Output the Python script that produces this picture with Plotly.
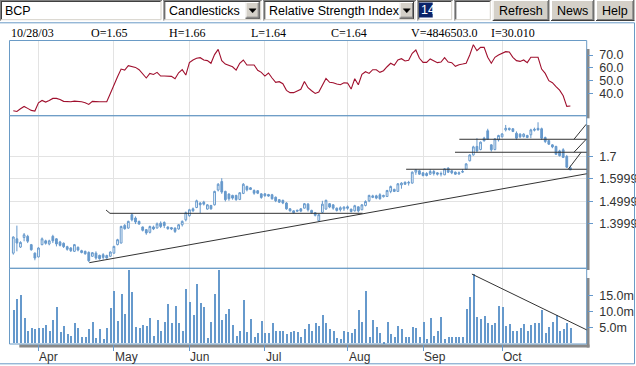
import pandas as pd
import plotly.graph_objects as go

W, H = 636, 366

# ---------------- data ----------------
holidays = ["2003-04-18", "2003-05-01"]
dates = [d for d in pd.bdate_range("2003-03-21", "2003-10-28") if d.strftime("%Y-%m-%d") not in holidays]

opens = [
    1.268, 1.332, 1.295, 1.338, 1.343, 1.306, 1.268, 1.251, 1.306, 1.323,
    1.309, 1.343, 1.332, 1.318, 1.312, 1.297, 1.291, 1.276, 1.294, 1.279,
    1.276, 1.271, 1.254, 1.268, 1.258, 1.261, 1.257, 1.254, 1.268, 1.306,
    1.313, 1.392, 1.380, 1.440, 1.425, 1.410, 1.385, 1.373, 1.361, 1.385,
    1.380, 1.402, 1.405, 1.385, 1.382, 1.380, 1.376, 1.395, 1.417, 1.435,
    1.466, 1.472, 1.492, 1.496, 1.465, 1.481, 1.484, 1.550, 1.588, 1.544,
    1.532, 1.526, 1.526, 1.508, 1.535, 1.566, 1.560, 1.548, 1.547, 1.533,
    1.533, 1.530, 1.529, 1.518, 1.507, 1.504, 1.492, 1.466, 1.457, 1.460,
    1.466, 1.469, 1.487, 1.459, 1.449, 1.413, 1.450, 1.465, 1.489, 1.484,
    1.469, 1.462, 1.466, 1.475, 1.465, 1.457, 1.475, 1.462, 1.481, 1.502,
    1.517, 1.524, 1.529, 1.520, 1.521, 1.544, 1.553, 1.544, 1.573, 1.585,
    1.581, 1.581, 1.630, 1.636, 1.627, 1.624, 1.621, 1.633, 1.627, 1.621,
    1.618, 1.648, 1.636, 1.630, 1.622, 1.630, 1.643, 1.681, 1.707, 1.745,
    1.731, 1.782, 1.815, 1.752, 1.731, 1.774, 1.788, 1.819, 1.826, 1.824,
    1.804, 1.800, 1.789, 1.794, 1.797, 1.822, 1.826, 1.824, 1.785, 1.771,
    1.752, 1.745, 1.725, 1.730, 1.700, 1.650]
highs = [
    1.343, 1.391, 1.321, 1.358, 1.350, 1.309, 1.271, 1.294, 1.338, 1.328,
    1.328, 1.350, 1.335, 1.323, 1.316, 1.301, 1.295, 1.309, 1.298, 1.283,
    1.279, 1.276, 1.273, 1.276, 1.261, 1.268, 1.261, 1.276, 1.301, 1.332,
    1.391, 1.398, 1.413, 1.447, 1.432, 1.413, 1.387, 1.376, 1.391, 1.391,
    1.405, 1.410, 1.410, 1.387, 1.385, 1.383, 1.398, 1.414, 1.454, 1.466,
    1.472, 1.507, 1.496, 1.502, 1.487, 1.484, 1.547, 1.581, 1.603, 1.547,
    1.536, 1.529, 1.529, 1.541, 1.581, 1.570, 1.563, 1.553, 1.550, 1.536,
    1.536, 1.533, 1.533, 1.521, 1.509, 1.507, 1.496, 1.469, 1.459, 1.462,
    1.469, 1.492, 1.492, 1.462, 1.451, 1.444, 1.502, 1.507, 1.492, 1.487,
    1.472, 1.477, 1.477, 1.481, 1.466, 1.484, 1.477, 1.487, 1.504, 1.529,
    1.529, 1.529, 1.536, 1.529, 1.551, 1.570, 1.556, 1.581, 1.585, 1.588,
    1.591, 1.633, 1.643, 1.640, 1.630, 1.630, 1.643, 1.640, 1.630, 1.633,
    1.648, 1.652, 1.640, 1.633, 1.633, 1.643, 1.670, 1.710, 1.748, 1.782,
    1.767, 1.788, 1.824, 1.755, 1.782, 1.797, 1.804, 1.841, 1.829, 1.826,
    1.812, 1.804, 1.804, 1.797, 1.824, 1.829, 1.853, 1.829, 1.789, 1.774,
    1.755, 1.748, 1.730, 1.737, 1.707, 1.660]
lows = [
    1.261, 1.276, 1.291, 1.321, 1.313, 1.279, 1.236, 1.249, 1.303, 1.306,
    1.303, 1.313, 1.298, 1.298, 1.291, 1.279, 1.273, 1.273, 1.276, 1.267,
    1.261, 1.228, 1.251, 1.239, 1.239, 1.239, 1.243, 1.251, 1.265, 1.303,
    1.312, 1.373, 1.377, 1.410, 1.398, 1.395, 1.365, 1.350, 1.356, 1.371,
    1.379, 1.380, 1.380, 1.373, 1.371, 1.358, 1.373, 1.387, 1.410, 1.431,
    1.453, 1.469, 1.447, 1.481, 1.462, 1.462, 1.481, 1.544, 1.533, 1.499,
    1.502, 1.507, 1.502, 1.505, 1.532, 1.544, 1.550, 1.529, 1.532, 1.511,
    1.521, 1.520, 1.507, 1.496, 1.492, 1.487, 1.462, 1.454, 1.444, 1.454,
    1.451, 1.468, 1.454, 1.444, 1.432, 1.410, 1.447, 1.462, 1.469, 1.462,
    1.454, 1.454, 1.457, 1.462, 1.450, 1.454, 1.450, 1.460, 1.477, 1.496,
    1.514, 1.509, 1.507, 1.517, 1.520, 1.536, 1.541, 1.542, 1.556, 1.573,
    1.570, 1.579, 1.618, 1.618, 1.611, 1.611, 1.618, 1.615, 1.615, 1.611,
    1.617, 1.626, 1.621, 1.618, 1.618, 1.626, 1.642, 1.678, 1.704, 1.719,
    1.728, 1.767, 1.774, 1.722, 1.728, 1.767, 1.785, 1.812, 1.815, 1.809,
    1.774, 1.782, 1.785, 1.782, 1.782, 1.812, 1.816, 1.774, 1.760, 1.752,
    1.737, 1.707, 1.700, 1.693, 1.648, 1.640]
closes = [
    1.340, 1.313, 1.316, 1.350, 1.321, 1.283, 1.246, 1.291, 1.332, 1.312,
    1.323, 1.323, 1.309, 1.303, 1.297, 1.285, 1.279, 1.306, 1.282, 1.271,
    1.265, 1.234, 1.270, 1.246, 1.243, 1.249, 1.246, 1.273, 1.298, 1.328,
    1.387, 1.377, 1.410, 1.417, 1.407, 1.398, 1.370, 1.358, 1.387, 1.376,
    1.399, 1.387, 1.391, 1.377, 1.376, 1.365, 1.395, 1.410, 1.449, 1.462,
    1.457, 1.502, 1.484, 1.487, 1.484, 1.466, 1.544, 1.576, 1.541, 1.507,
    1.511, 1.514, 1.507, 1.538, 1.576, 1.551, 1.553, 1.536, 1.536, 1.517,
    1.524, 1.523, 1.511, 1.502, 1.496, 1.492, 1.466, 1.457, 1.449, 1.456,
    1.456, 1.489, 1.462, 1.449, 1.437, 1.440, 1.487, 1.504, 1.474, 1.469,
    1.459, 1.471, 1.474, 1.469, 1.454, 1.480, 1.457, 1.484, 1.499, 1.526,
    1.524, 1.514, 1.511, 1.526, 1.548, 1.566, 1.544, 1.578, 1.581, 1.576,
    1.584, 1.630, 1.640, 1.621, 1.615, 1.615, 1.633, 1.624, 1.621, 1.624,
    1.645, 1.630, 1.627, 1.621, 1.627, 1.633, 1.667, 1.707, 1.743, 1.725,
    1.764, 1.770, 1.777, 1.730, 1.779, 1.794, 1.801, 1.826, 1.821, 1.812,
    1.782, 1.788, 1.800, 1.785, 1.819, 1.818, 1.819, 1.782, 1.767, 1.755,
    1.743, 1.710, 1.704, 1.696, 1.652, 1.640]
volume_m = [
    10.4, 13.9, 15.2, 7.9, 4.0, 4.9, 4.4, 4.7, 4.7, 5.6,
    4.0, 7.2, 11.3, 3.6, 5.3, 2.8, 2.4, 6.3, 4.7, 2.1,
    2.1, 4.4, 6.6, 1.5, 4.4, 1.2, 4.7, 11.1, 16.5, 6.9,
    15.5, 9.1, 23.0, 16.2, 5.0, 4.7, 5.6, 5.3, 7.9, 2.4,
    7.2, 4.0, 6.6, 12.3, 6.3, 11.6, 6.3, 3.7, 17.1, 13.0,
    8.8, 18.7, 12.7, 11.5, 1.5, 6.6, 15.5, 23.0, 7.2, 9.1,
    10.7, 5.6, 2.4, 4.0, 13.6, 3.4, 7.6, 2.1, 3.1, 6.9,
    3.1, 3.1, 6.3, 3.7, 3.7, 4.0, 2.8, 3.4, 4.0, 3.4,
    2.1, 4.4, 6.0, 4.0, 6.3, 5.5, 8.8, 6.3, 4.4, 3.7,
    1.5, 1.2, 4.0, 3.4, 3.1, 4.4, 10.4, 6.6, 16.5, 1.8,
    7.2, 5.0, 3.1, 0.5, 6.6, 2.8, 2.1, 5.3, 4.4, 1.8,
    1.8, 5.0, 4.7, 1.8, 6.8, 1.2, 7.9, 2.4, 3.7, 8.2,
    1.2, 2.1, 2.1, 2.1, 1.8, 1.8, 10.7, 14.6, 21.9, 8.2,
    7.6, 8.5, 6.3, 5.6, 6.3, 11.7, 11.4, 5.3, 6.0, 3.7,
    3.7, 4.7, 6.0, 3.7, 5.6, 6.3, 6.3, 10.4, 3.1, 5.0,
    6.6, 8.8, 4.0, 4.4, 6.3, 4.85]
rsi = [
    26.3, 25.8, 27.9, 29.7, 28.2, 26.6, 26.1, 32.6, 34.4, 33.1,
    34.4, 36.0, 36.0, 35.2, 33.7, 33.4, 33.4, 33.9, 33.7, 33.4,
    32.6, 31.3, 33.7, 33.4, 33.4, 33.4, 33.4, 39.9, 47.0, 53.0,
    59.0, 58.2, 61.6, 61.1, 60.3, 58.5, 55.6, 52.0, 55.6, 54.8,
    56.4, 53.5, 53.5, 53.5, 53.3, 51.4, 56.1, 58.5, 54.3, 64.0,
    66.1, 67.4, 67.9, 66.1, 65.6, 63.5, 70.3, 74.4, 65.6, 62.9,
    61.6, 60.8, 58.2, 63.5, 66.1, 62.2, 62.2, 62.2, 58.0, 56.4,
    53.5, 55.9, 52.0, 48.6, 49.1, 47.5, 42.3, 40.5, 40.5, 42.0,
    43.1, 49.3, 44.4, 42.0, 39.9, 41.0, 45.9, 51.7, 48.6, 48.3,
    47.3, 46.7, 48.3, 48.0, 43.3, 51.4, 46.7, 54.8, 56.9, 55.6,
    58.5, 58.5, 56.4, 57.7, 60.8, 63.5, 61.9, 66.1, 67.1, 65.3,
    65.8, 71.3, 73.9, 67.4, 64.2, 64.2, 66.9, 65.3, 64.0, 64.5,
    67.9, 64.5, 64.0, 61.1, 62.4, 62.9, 63.5, 70.0, 78.1, 73.4,
    76.0, 76.0, 68.2, 63.5, 68.2, 70.0, 71.3, 72.6, 72.4, 68.2,
    65.6, 65.0, 66.1, 64.0, 68.2, 68.2, 68.2, 59.0, 55.6, 49.9,
    48.3, 45.2, 42.5, 38.1, 29.8, 30.01]

rsi_ticks = [40, 50, 60, 70]
rsi_ticktext = ["40.0", "50.0", "60.0", "70.0"]
price_ticks = [1.4, 1.5, 1.6, 1.7]
price_ticktext = ["1.39999", "1.49999", "1.59999", "1.7"]
vol_ticks = [5, 10, 15]
vol_ticktext = ["5.0m", "10.0m", "15.0m"]

# user-drawn lines (index, value)
price_lines = [
    [(21.15, 1.2253), (159.6, 1.623)],
    [(25.8, 1.4608), (26.9, 1.446)],
    [(26.9, 1.446), (97.2, 1.446)],
    [(109.3, 1.643), (159.6, 1.643)],
    [(122.9, 1.719), (159.6, 1.719)],
    [(124.1, 1.777), (159.6, 1.777)],
    [(156.0, 1.777), (159.4, 1.844)],
    [(156.0, 1.719), (159.4, 1.777)],
    [(154.4, 1.643), (158.0, 1.719)],
]
volume_lines = [[(127.6, 21.9), (159.6, 4.26)]]

header = [("10/28/03", 9.3), ("O=1.65", 89.3), ("H=1.66", 166.7), ("L=1.64", 249.3),
          ("C=1.64", 328.7), ("V=4846503.0", 409.3), ("I=30.010", 489.3)]

# ---------------- layout helpers ----------------
idx = list(range(len(dates)))
month_idx = [i for i in idx if i == 0 or dates[i].month != dates[i - 1].month][1:]
month_lbl = [dates[i].strftime("%b") for i in month_idx]

BLUE = "#6699cc"
FRAME = "#6a9bc6"
GRID = "#e3e3e3"
FACE = "#d4d0c8"

def px(x):
    return x / W

def py(y):
    return 1 - y / H

XL, XR = 9.5, 586.7
RSI_T, RSI_B = 40.5, 115.7
PR_T, PR_B = 115.7, 268.3
VO_T, VO_B = 268.3, 344.0
XRANGE = [-1.057, 159.54]

shapes = []
annotations = []

def rect(x0, y0, x1, y1, fill=None, line=None, lw=1, layer="above"):
    shapes.append(dict(type="rect", xref="paper", yref="paper",
                       x0=px(x0), x1=px(x1), y0=py(y1), y1=py(y0),
                       fillcolor=fill if fill else "rgba(0,0,0,0)",
                       line=dict(color=line if line else "rgba(0,0,0,0)", width=lw if line else 0),
                       layer=layer))

def hline(x0, x1, y, color, lw=1, layer="above"):
    shapes.append(dict(type="line", xref="paper", yref="paper", x0=px(x0), x1=px(x1),
                       y0=py(y), y1=py(y), line=dict(color=color, width=lw), layer=layer))

def vline(x, y0, y1, color, lw=1, layer="above"):
    shapes.append(dict(type="line", xref="paper", yref="paper", x0=px(x), x1=px(x),
                       y0=py(y0), y1=py(y1), line=dict(color=color, width=lw), layer=layer))

def text(t, x, y, size=12.5, color="black", family="Liberation Sans", anchor="left"):
    annotations.append(dict(text=t, x=px(x), y=py(y), xref="paper", yref="paper",
                            xanchor=anchor, yanchor="middle", showarrow=False,
                            font=dict(size=size, color=color, family=family)))

def sunken(x0, y0, x1, y1):
    rect(x0, y0, x1, y1, fill="white")
    hline(x0, x1, y0 + 0.5, "#808080")
    vline(x0 + 0.5, y0, y1, "#808080")
    hline(x0 + 1, x1 - 1, y0 + 1.5, "#404040")
    vline(x0 + 1.5, y0 + 1, y1 - 1, "#404040")
    hline(x0 + 1, x1 - 1, y1 - 1, FACE)
    vline(x1 - 1, y0 + 1, y1 - 1, FACE)

def raised(x0, y0, x1, y1):
    rect(x0, y0, x1, y1, fill=FACE)
    hline(x0, x1, y0 + 0.5, "white")
    vline(x0 + 0.5, y0, y1, "white")
    hline(x0, x1, y1 - 0.5, "#404040")
    vline(x1 - 0.5, y0, y1, "#404040")
    hline(x0 + 1, x1 - 1, y1 - 1.5, "#808080")
    vline(x1 - 1.5, y0 + 1, y1 - 1, "#808080")

def arrow_btn(x0, y0, x1, y1):
    raised(x0, y0, x1, y1)
    cx, cy = (x0 + x1) / 2, (y0 + y1) / 2
    path = "M {} {} L {} {} L {} {} Z".format(px(cx - 3.5), py(cy - 1.5), px(cx + 3.5), py(cy - 1.5), px(cx), py(cy + 2.5))
    shapes.append(dict(type="path", xref="paper", yref="paper", path=path,
                       fillcolor="black", line=dict(color="black", width=0.5)))

# ---------------- toolbar ----------------
sunken(0, 0, 162, 20.7)
text("BCP", 2.5, 11)
sunken(163.3, 0, 261.7, 20.7)
text("Candlesticks", 167, 11)
arrow_btn(245.5, 2, 259.7, 18.7)
sunken(263.3, 0, 416, 20.7)
text("Relative Strength Index", 266.5, 11)
arrow_btn(399.5, 2, 414, 18.7)
sunken(417.3, 0, 452.7, 20.7)
rect(419, 2.5, 432.7, 17.5, fill="#0a246a")
text("14", 419.2, 10.5, color="white")
sunken(454.3, 0, 491.3, 20.7)
raised(492.7, 0, 549.3, 21)
text("Refresh", 521, 11, anchor="center")
raised(551, 0, 594.3, 21)
text("News", 572.7, 11, anchor="center")
raised(596, 0, 634.3, 21)
text("Help", 615.2, 11, anchor="center")

# outer frame
hline(0, 634.5, 22.8, FRAME)
vline(634.5, 22.8, 363.8, FRAME)
hline(0, 634.5, 363.8, FRAME)

for t, x in header:
    text(t, x, 33, size=12, family="Liberation Serif")

# shadows
rect(586.7, 49, 589.5, 118.3, fill="#888888", layer="below")
rect(586.7, 125, 589.5, 270, fill="#888888", layer="below")
rect(586.7, 278, 589.5, 347.5, fill="#888888", layer="below")
rect(19.3, 344.5, 589.5, 347.5, fill="#888888", layer="below")

# panel borders
for t, b in [(RSI_T, RSI_B), (PR_T, PR_B), (VO_T, VO_B)]:
    rect(XL, t, XR, b, line=FRAME, lw=1)

# month labels
for i, lab in zip(month_idx, month_lbl):
    annotations.append(dict(text=lab, x=i, y=py(357), xref="x3", yref="paper",
                            xanchor="left", yanchor="middle", showarrow=False, xshift=-1,
                            font=dict(size=12, color="#333333", family="Liberation Sans")))

for seg in price_lines:
    (x0, y0), (x1, y1) = seg
    shapes.append(dict(type="line", xref="x2", yref="y2", x0=x0, y0=y0, x1=x1, y1=y1,
                       line=dict(color="#333333", width=1)))
for seg in volume_lines:
    (x0, y0), (x1, y1) = seg
    shapes.append(dict(type="line", xref="x3", yref="y3", x0=x0, y0=y0, x1=x1, y1=y1,
                       line=dict(color="#333333", width=1)))

# ---------------- traces ----------------
fig = go.Figure()
fig.add_trace(go.Scatter(x=idx, y=rsi, mode="lines", xaxis="x", yaxis="y",
                         line=dict(color="#a0102e", width=1.1), hoverinfo="skip"))
fig.add_trace(go.Candlestick(x=idx, open=opens, high=highs, low=lows, close=closes,
                             xaxis="x2", yaxis="y2", whiskerwidth=0,
                             increasing=dict(line=dict(color=BLUE, width=1), fillcolor="white"),
                             decreasing=dict(line=dict(color=BLUE, width=1), fillcolor=BLUE)))
fig.add_trace(go.Bar(x=idx, y=volume_m, xaxis="x3", yaxis="y3", width=0.28,
                     marker=dict(color=BLUE, line=dict(width=0))))

xcommon = dict(domain=[px(XL), px(XR)], range=XRANGE, tickmode="array", tickvals=month_idx,
               showticklabels=False, showgrid=True, gridcolor=GRID, gridwidth=1,
               zeroline=False, showline=False, fixedrange=True, automargin=False)
tickfont = dict(size=12.5, color="#333333", family="Liberation Sans")
ycommon = dict(side="right", ticks="outside", ticklen=5, tickcolor=BLUE, tickwidth=1,
               ticklabelstandoff=4, automargin=False,
               tickmode="array", zeroline=False, showline=False, tickfont=tickfont, fixedrange=True)

fig.update_layout(
    width=W, height=H, margin=dict(l=0, r=0, t=0, b=0, autoexpand=False),
    paper_bgcolor="white", plot_bgcolor="white", showlegend=False,
    xaxis=dict(xcommon, anchor="y"),
    xaxis2=dict(xcommon, anchor="y2", rangeslider=dict(visible=False)),
    xaxis3=dict(xcommon, anchor="y3", ticks="outside", ticklen=6, tickcolor=BLUE, tickwidth=1),
    yaxis=dict(ycommon, domain=[py(RSI_B), py(RSI_T)], range=[22.46, 81.36],
               tickvals=rsi_ticks, ticktext=rsi_ticktext, showgrid=False, anchor="x"),
    yaxis2=dict(ycommon, domain=[py(PR_B), py(PR_T)], range=[1.2002, 1.8824],
                tickvals=price_ticks, ticktext=price_ticktext, showgrid=True,
                gridcolor=GRID, gridwidth=1, anchor="x2"),
    yaxis3=dict(ycommon, domain=[py(VO_B), py(VO_T)], range=[-0.16, 23.72],
                tickvals=vol_ticks, ticktext=vol_ticktext, showgrid=False, anchor="x3"),
    shapes=shapes, annotations=annotations, bargap=0,
)

fig.write_html("out.html", config={"displayModeBar": False},
               post_script="document.body.style.margin='0';document.body.style.overflow='hidden';")
